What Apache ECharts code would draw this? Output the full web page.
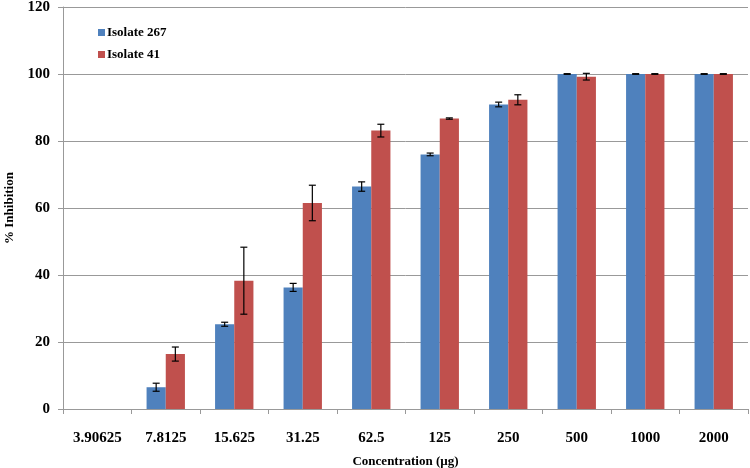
<!DOCTYPE html>
<html>
<head>
<meta charset="utf-8">
<script src="https://cdn.jsdelivr.net/npm/echarts@6/dist/echarts.min.js"></script>
<style>html,body{margin:0;padding:0;background:#fff}#c{width:750px;height:468px}</style>
</head>
<body>
<div id="c"></div>
<script>
var categories = ['3.90625','7.8125','15.625','31.25','62.5','125','250','500','1000','2000'];
var isolate267 = [0, 6.5, 25.3, 36.3, 66.4, 76.0, 90.9, 100, 100, 100];
var isolate267Err = [0, 1.2, 0.6, 1.2, 1.4, 0.4, 0.7, 0.1, 0.1, 0.1];
var isolate41 = [0, 16.4, 38.3, 61.5, 83.1, 86.7, 92.3, 99.2, 100, 100];
var isolate41Err = [0, 2.1, 10.0, 5.3, 1.9, 0.2, 1.5, 1.0, 0.1, 0.1];
var yTicks = [0, 20, 40, 60, 80, 100, 120];

var FONT = '"Liberation Serif", "Times New Roman", serif';
var BAR_FRAC = 0.28;

function errData(vals, errs) {
  return vals.map(function (v, i) { return [i, v - errs[i], v + errs[i]]; });
}
function errRender(side) {
  return function (params, api) {
    var i = api.value(0);
    if (api.value(2) - api.value(1) <= 0) return null;
    var lo = api.coord([i, api.value(1)]);
    var hi = api.coord([i, api.value(2)]);
    var cw = api.size([1, 0])[0];
    var x = lo[0] + side * cw * BAR_FRAC / 2;
    var cap = 3.5;
    var st = { stroke: '#000', lineWidth: 1.2 };
    return {
      type: 'group',
      children: [
        { type: 'line', shape: { x1: x, y1: lo[1], x2: x, y2: hi[1] }, style: st },
        { type: 'line', shape: { x1: x - cap, y1: lo[1], x2: x + cap, y2: lo[1] }, style: st },
        { type: 'line', shape: { x1: x - cap, y1: hi[1], x2: x + cap, y2: hi[1] }, style: st }
      ]
    };
  };
}

var chart = echarts.init(document.getElementById('c'));
chart.setOption({
  animation: false,
  backgroundColor: '#fff',
  grid: { left: 63, right: 2, top: 7, bottom: 59, containLabel: false, outerBoundsMode: 'none' },
  legend: {
    orient: 'vertical',
    left: 93, top: 21,
    itemWidth: 7, itemHeight: 7, itemGap: 9,
    icon: 'rect',
    data: ['Isolate 267', 'Isolate 41'],
    textStyle: { fontFamily: FONT, fontWeight: 'bold', fontSize: 13, color: '#000', padding: [0,0,0,-3] }
  },
  xAxis: {
    type: 'category',
    data: categories,
    name: 'Concentration (µg)',
    nameLocation: 'middle',
    nameGap: 46,
    nameTextStyle: { fontFamily: FONT, fontWeight: 'bold', fontSize: 13, color: '#000' },
    axisLine: { lineStyle: { color: '#999', width: 1 } },
    axisTick: { show: true, length: 5, alignWithLabel: false, lineStyle: { color: '#999' } },
    axisLabel: { fontFamily: FONT, fontWeight: 'bold', fontSize: 15, color: '#000', margin: 22, interval: 0 }
  },
  yAxis: {
    type: 'value',
    min: 0, max: 120, interval: 20,
    name: '% Inhibition',
    nameLocation: 'middle',
    nameGap: 47,
    nameTextStyle: { fontFamily: FONT, fontWeight: 'bold', fontSize: 13, color: '#000' },
    axisLine: { show: true, lineStyle: { color: '#999', width: 1 } },
    axisTick: { show: true, length: 5, lineStyle: { color: '#999' } },
    splitLine: { lineStyle: { color: '#999', width: 1 } },
    axisLabel: {
      fontFamily: FONT, fontWeight: 'bold', fontSize: 15, color: '#000', margin: 13,
      formatter: function (v) { return yTicks.indexOf(v) >= 0 ? String(v) : ''; }
    }
  },
  series: [
    { name: 'Isolate 267', type: 'bar', data: isolate267, barWidth: (BAR_FRAC * 100) + '%', barGap: '0%',
      itemStyle: { color: '#4F81BD' } },
    { name: 'Isolate 41', type: 'bar', data: isolate41, barWidth: (BAR_FRAC * 100) + '%', barGap: '0%',
      itemStyle: { color: '#C0504D' } },
    { type: 'custom', name: 'err267', data: errData(isolate267, isolate267Err), renderItem: errRender(-1),
      encode: { x: 0, y: [1, 2] }, z: 10, silent: true },
    { type: 'custom', name: 'err41', data: errData(isolate41, isolate41Err), renderItem: errRender(1),
      encode: { x: 0, y: [1, 2] }, z: 10, silent: true }
  ]
});
</script>
</body>
</html>
